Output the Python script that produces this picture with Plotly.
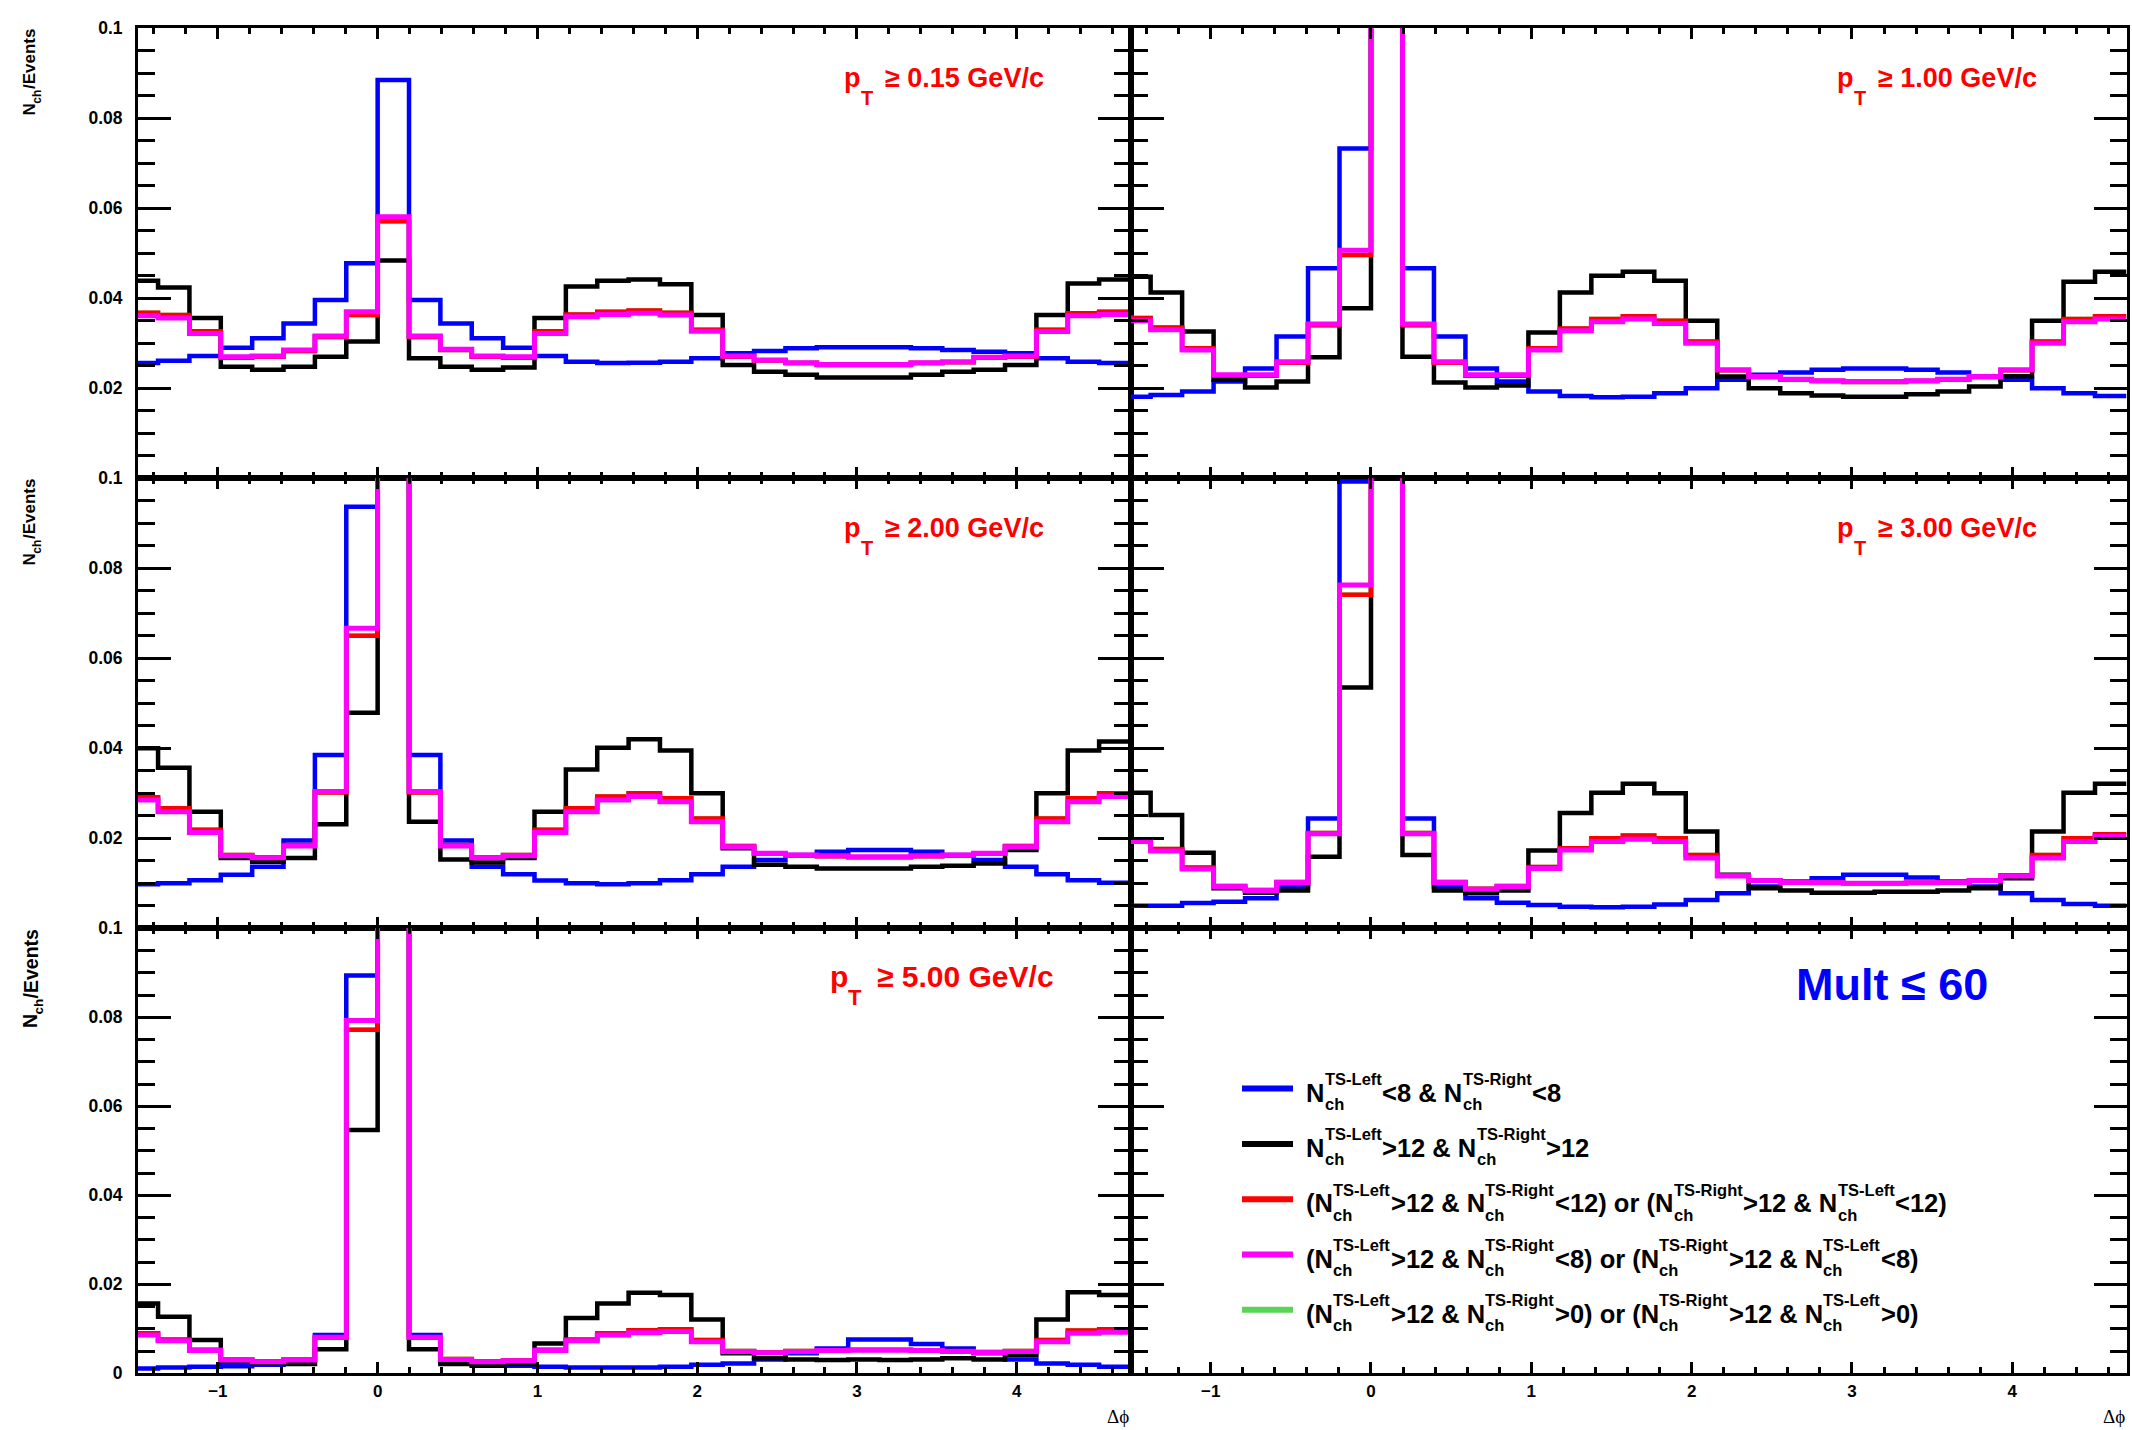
import re
import numpy as np
import plotly.graph_objects as go

W, H = 2132, 1430

# ---------------- data ----------------
NBINS = 32
X_MIN, X_MAX = -1.5, 1.5 * np.pi
BIN_EDGES = np.linspace(-np.pi / 2, 3 * np.pi / 2, NBINS + 1)

PT_CUTS = ["0.15", "1.00", "2.00", "3.00", "5.00"]
X_TICKS = [-1, 0, 1, 2, 3, 4]
X_TICK_TEXT = ["\u22121", "0", "1", "2", "3", "4"]
Y_TICKS = [0, 0.02, 0.04, 0.06, 0.08, 0.1]
Y_TICK_TEXT = ["0", "0.02", "0.04", "0.06", "0.08", "0.1"]
Y_TITLE = ("N", "ch", "/Events")
X_TITLE = "\u0394\u03d5"
MULT_LABEL = "Mult \u2264 60"

LEGEND_LABELS = [
    "N_{ch}^{TS-Left}<8 & N_{ch}^{TS-Right}<8",
    "N_{ch}^{TS-Left}>12 & N_{ch}^{TS-Right}>12",
    "(N_{ch}^{TS-Left}>12 & N_{ch}^{TS-Right}<12) or (N_{ch}^{TS-Right}>12 & N_{ch}^{TS-Left}<12)",
    "(N_{ch}^{TS-Left}>12 & N_{ch}^{TS-Right}<8) or (N_{ch}^{TS-Right}>12 & N_{ch}^{TS-Left}<8)",
    "(N_{ch}^{TS-Left}>12 & N_{ch}^{TS-Right}>0) or (N_{ch}^{TS-Right}>12 & N_{ch}^{TS-Left}>0)",
]

# pT >= 0.15
BLUE_015 = [0.0256, 0.0261, 0.0272, 0.0290, 0.0311, 0.0344, 0.0396, 0.0478, 0.0885, 0.0396, 0.0344, 0.0311, 0.0290, 0.0272, 0.0259, 0.0256,
            0.0257, 0.0259, 0.0267, 0.0278, 0.0283, 0.0289, 0.0291, 0.0291, 0.0291, 0.0289, 0.0285, 0.0281, 0.0278, 0.0267, 0.0259, 0.0256]
BLACK_015 = [0.0439, 0.0424, 0.0356, 0.0248, 0.0241, 0.0248, 0.0270, 0.0304, 0.0484, 0.0267, 0.0248, 0.0241, 0.0246, 0.0356, 0.0426, 0.0439,
             0.0442, 0.0431, 0.0363, 0.0252, 0.0237, 0.0230, 0.0224, 0.0224, 0.0224, 0.0230, 0.0237, 0.0241, 0.0252, 0.0363, 0.0433, 0.0442]
RED_015 = [0.0368, 0.0363, 0.0327, 0.0268, 0.0270, 0.0283, 0.0314, 0.0363, 0.0571, 0.0314, 0.0285, 0.0270, 0.0268, 0.0327, 0.0364, 0.0370,
           0.0373, 0.0368, 0.0330, 0.0270, 0.0262, 0.0256, 0.0252, 0.0252, 0.0252, 0.0256, 0.0258, 0.0268, 0.0270, 0.0330, 0.0367, 0.0370]
MAGENTA_015 = [0.0361, 0.0356, 0.0322, 0.0270, 0.0272, 0.0285, 0.0316, 0.0370, 0.0581, 0.0316, 0.0287, 0.0272, 0.0270, 0.0322, 0.0359, 0.0364,
               0.0367, 0.0363, 0.0327, 0.0272, 0.0263, 0.0257, 0.0253, 0.0253, 0.0253, 0.0257, 0.0259, 0.0269, 0.0272, 0.0326, 0.0361, 0.0364]
GREEN_015 = [0.0368, 0.0363, 0.0327, 0.0268, 0.0270, 0.0283, 0.0314, 0.0363, 0.0571, 0.0314, 0.0285, 0.0270, 0.0268, 0.0327, 0.0364, 0.0370,
             0.0373, 0.0368, 0.0330, 0.0270, 0.0262, 0.0256, 0.0252, 0.0252, 0.0252, 0.0256, 0.0258, 0.0268, 0.0270, 0.0330, 0.0367, 0.0370]

# pT >= 1.00
BLUE_100 = [0.0181, 0.0185, 0.0193, 0.0215, 0.0244, 0.0315, 0.0467, 0.0733, 0.1500, 0.0467, 0.0315, 0.0244, 0.0215, 0.0193, 0.0183, 0.0180,
            0.0181, 0.0189, 0.0200, 0.0219, 0.0230, 0.0235, 0.0241, 0.0244, 0.0244, 0.0241, 0.0235, 0.0227, 0.0219, 0.0200, 0.0189, 0.0183]
BLACK_100 = [0.0448, 0.0413, 0.0326, 0.0219, 0.0202, 0.0215, 0.0269, 0.0378, 0.1500, 0.0270, 0.0213, 0.0202, 0.0206, 0.0324, 0.0413, 0.0450,
             0.0459, 0.0439, 0.0350, 0.0226, 0.0200, 0.0189, 0.0184, 0.0181, 0.0181, 0.0187, 0.0193, 0.0204, 0.0227, 0.0350, 0.0437, 0.0459]
RED_100 = [0.0356, 0.0335, 0.0289, 0.0228, 0.0228, 0.0257, 0.0340, 0.0496, 0.1500, 0.0340, 0.0257, 0.0228, 0.0228, 0.0289, 0.0333, 0.0354,
           0.0360, 0.0350, 0.0304, 0.0240, 0.0225, 0.0219, 0.0216, 0.0214, 0.0214, 0.0216, 0.0219, 0.0225, 0.0240, 0.0304, 0.0354, 0.0360]
MAGENTA_100 = [0.0350, 0.0330, 0.0285, 0.0230, 0.0230, 0.0259, 0.0343, 0.0507, 0.1500, 0.0343, 0.0259, 0.0230, 0.0230, 0.0285, 0.0328, 0.0348,
               0.0354, 0.0344, 0.0300, 0.0241, 0.0226, 0.0220, 0.0217, 0.0215, 0.0215, 0.0217, 0.0220, 0.0226, 0.0241, 0.0300, 0.0348, 0.0354]
GREEN_100 = [0.0356, 0.0335, 0.0289, 0.0228, 0.0228, 0.0257, 0.0340, 0.0496, 0.1500, 0.0340, 0.0257, 0.0228, 0.0228, 0.0289, 0.0333, 0.0354,
             0.0360, 0.0350, 0.0304, 0.0240, 0.0225, 0.0219, 0.0216, 0.0214, 0.0214, 0.0216, 0.0219, 0.0225, 0.0240, 0.0304, 0.0354, 0.0360]

# pT >= 2.00
BLUE_200 = [0.0098, 0.0100, 0.0107, 0.0119, 0.0137, 0.0195, 0.0385, 0.0937, 0.1500, 0.0385, 0.0195, 0.0137, 0.0120, 0.0106, 0.0100, 0.0098,
            0.0100, 0.0107, 0.0120, 0.0137, 0.0152, 0.0163, 0.0170, 0.0174, 0.0174, 0.0170, 0.0163, 0.0152, 0.0137, 0.0120, 0.0107, 0.0101]
BLACK_200 = [0.0400, 0.0357, 0.0259, 0.0156, 0.0148, 0.0156, 0.0231, 0.0479, 0.1500, 0.0237, 0.0153, 0.0146, 0.0156, 0.0259, 0.0353, 0.0401,
             0.0420, 0.0395, 0.0300, 0.0178, 0.0141, 0.0137, 0.0133, 0.0133, 0.0133, 0.0137, 0.0139, 0.0144, 0.0174, 0.0300, 0.0395, 0.0415]
RED_200 = [0.0291, 0.0267, 0.0219, 0.0163, 0.0158, 0.0185, 0.0302, 0.0650, 0.1500, 0.0302, 0.0185, 0.0158, 0.0163, 0.0219, 0.0267, 0.0293,
           0.0300, 0.0289, 0.0244, 0.0183, 0.0166, 0.0162, 0.0160, 0.0158, 0.0158, 0.0160, 0.0162, 0.0166, 0.0183, 0.0244, 0.0289, 0.0300]
MAGENTA_200 = [0.0285, 0.0259, 0.0213, 0.0161, 0.0157, 0.0183, 0.0304, 0.0667, 0.1500, 0.0304, 0.0183, 0.0157, 0.0161, 0.0213, 0.0259, 0.0285,
               0.0293, 0.0281, 0.0237, 0.0181, 0.0167, 0.0163, 0.0161, 0.0159, 0.0159, 0.0161, 0.0163, 0.0167, 0.0181, 0.0237, 0.0281, 0.0293]
GREEN_200 = [0.0291, 0.0267, 0.0219, 0.0163, 0.0158, 0.0185, 0.0302, 0.0650, 0.1500, 0.0302, 0.0185, 0.0158, 0.0163, 0.0219, 0.0267, 0.0293,
             0.0300, 0.0289, 0.0244, 0.0183, 0.0166, 0.0162, 0.0160, 0.0158, 0.0158, 0.0160, 0.0162, 0.0166, 0.0183, 0.0244, 0.0289, 0.0300]

# pT >= 3.00
BLUE_300 = [0.0050, 0.0050, 0.0056, 0.0059, 0.0067, 0.0093, 0.0244, 0.0993, 0.1500, 0.0244, 0.0093, 0.0067, 0.0057, 0.0052, 0.0048, 0.0047,
            0.0048, 0.0053, 0.0063, 0.0078, 0.0093, 0.0104, 0.0111, 0.0119, 0.0119, 0.0113, 0.0104, 0.0093, 0.0078, 0.0063, 0.0054, 0.0050]
BLACK_300 = [0.0301, 0.0252, 0.0168, 0.0089, 0.0079, 0.0084, 0.0159, 0.0535, 0.1500, 0.0163, 0.0084, 0.0078, 0.0084, 0.0173, 0.0256, 0.0301,
             0.0321, 0.0300, 0.0215, 0.0119, 0.0089, 0.0084, 0.0079, 0.0079, 0.0081, 0.0081, 0.0084, 0.0089, 0.0111, 0.0215, 0.0301, 0.0321]
RED_300 = [0.0198, 0.0176, 0.0135, 0.0094, 0.0085, 0.0103, 0.0212, 0.0741, 0.1500, 0.0212, 0.0103, 0.0088, 0.0094, 0.0136, 0.0178, 0.0200,
           0.0206, 0.0200, 0.0163, 0.0118, 0.0107, 0.0102, 0.0101, 0.0100, 0.0100, 0.0101, 0.0102, 0.0107, 0.0118, 0.0163, 0.0200, 0.0209]
MAGENTA_300 = [0.0193, 0.0172, 0.0132, 0.0093, 0.0084, 0.0102, 0.0210, 0.0763, 0.1500, 0.0210, 0.0102, 0.0087, 0.0093, 0.0133, 0.0174, 0.0193,
               0.0198, 0.0193, 0.0156, 0.0116, 0.0106, 0.0102, 0.0101, 0.0100, 0.0100, 0.0101, 0.0102, 0.0106, 0.0116, 0.0156, 0.0193, 0.0204]
GREEN_300 = [0.0198, 0.0176, 0.0135, 0.0094, 0.0085, 0.0103, 0.0212, 0.0741, 0.1500, 0.0212, 0.0103, 0.0088, 0.0094, 0.0136, 0.0178, 0.0200,
             0.0206, 0.0200, 0.0163, 0.0118, 0.0107, 0.0102, 0.0101, 0.0100, 0.0100, 0.0101, 0.0102, 0.0107, 0.0118, 0.0163, 0.0200, 0.0209]

# pT >= 5.00
BLUE_500 = [0.0011, 0.0013, 0.0015, 0.0016, 0.0019, 0.0022, 0.0086, 0.0894, 0.1500, 0.0086, 0.0024, 0.0019, 0.0017, 0.0015, 0.0013, 0.0013,
            0.0013, 0.0015, 0.0019, 0.0022, 0.0031, 0.0045, 0.0056, 0.0076, 0.0076, 0.0066, 0.0056, 0.0045, 0.0031, 0.0022, 0.0019, 0.0015]
BLACK_500 = [0.0157, 0.0127, 0.0075, 0.0026, 0.0022, 0.0021, 0.0054, 0.0547, 0.1500, 0.0054, 0.0021, 0.0017, 0.0021, 0.0067, 0.0124, 0.0157,
             0.0181, 0.0176, 0.0121, 0.0045, 0.0034, 0.0031, 0.0030, 0.0031, 0.0030, 0.0031, 0.0034, 0.0031, 0.0041, 0.0121, 0.0182, 0.0176]
RED_500 = [0.0090, 0.0076, 0.0053, 0.0031, 0.0027, 0.0031, 0.0080, 0.0772, 0.1500, 0.0080, 0.0032, 0.0027, 0.0029, 0.0053, 0.0076, 0.0090,
           0.0097, 0.0099, 0.0075, 0.0050, 0.0047, 0.0050, 0.0052, 0.0053, 0.0053, 0.0052, 0.0050, 0.0048, 0.0050, 0.0075, 0.0096, 0.0099]
MAGENTA_500 = [0.0086, 0.0073, 0.0051, 0.0030, 0.0026, 0.0030, 0.0081, 0.0793, 0.1500, 0.0081, 0.0031, 0.0026, 0.0028, 0.0051, 0.0073, 0.0086,
               0.0091, 0.0094, 0.0071, 0.0049, 0.0046, 0.0049, 0.0051, 0.0052, 0.0052, 0.0051, 0.0049, 0.0047, 0.0049, 0.0071, 0.0090, 0.0092]
GREEN_500 = [0.0090, 0.0076, 0.0053, 0.0031, 0.0027, 0.0031, 0.0080, 0.0772, 0.1500, 0.0080, 0.0032, 0.0027, 0.0029, 0.0053, 0.0076, 0.0090,
             0.0097, 0.0099, 0.0075, 0.0050, 0.0047, 0.0050, 0.0052, 0.0053, 0.0053, 0.0052, 0.0050, 0.0048, 0.0050, 0.0075, 0.0096, 0.0099]

PANEL_DATA = [
    {"blue": BLUE_015, "black": BLACK_015, "red": RED_015, "magenta": MAGENTA_015, "green": GREEN_015},
    {"blue": BLUE_100, "black": BLACK_100, "red": RED_100, "magenta": MAGENTA_100, "green": GREEN_100},
    {"blue": BLUE_200, "black": BLACK_200, "red": RED_200, "magenta": MAGENTA_200, "green": GREEN_200},
    {"blue": BLUE_300, "black": BLACK_300, "red": RED_300, "magenta": MAGENTA_300, "green": GREEN_300},
    {"blue": BLUE_500, "black": BLACK_500, "red": RED_500, "magenta": MAGENTA_500, "green": GREEN_500},
]

# ---------------- styles ----------------
COLORS = {"blue": "#0000ff", "black": "#000000", "red": "#ff0000", "magenta": "#ff00ff", "green": "#59d454"}
WIDTHS = {"blue": 4.5, "black": 4.5, "red": 4.5, "magenta": 5, "green": 4.5}
DRAW_ORDER = ["green", "blue", "black", "red", "magenta"]
LEGEND_ORDER = ["blue", "black", "red", "magenta", "green"]

FONT = "Liberation Sans, Arial, Helvetica, sans-serif"

COL_X = [(138.0, 1130.5), (1130.5, 2126.5)]
ROW_Y = [(28.3, 478.3), (478.3, 928.3), (928.3, 1373.3)]

# Arial/Liberation Sans Bold advance widths (per 1000 em)
AW = {" ": 278, "(": 333, ")": 333, "&": 722, "-": 333, ".": 278, "/": 278, "<": 584, ">": 584,
      "\u2265": 549, "\u2264": 549,
      "0": 556, "1": 556, "2": 556, "3": 556, "4": 556, "5": 556, "6": 556, "7": 556, "8": 556, "9": 556,
      "E": 667, "G": 778, "L": 611, "M": 833, "N": 722, "R": 722, "S": 667, "T": 611, "V": 667,
      "c": 556, "e": 556, "f": 333, "g": 611, "h": 611, "i": 278, "l": 278, "n": 611, "o": 611, "r": 389,
      "s": 556, "t": 333, "u": 611, "v": 556, "p": 611}


def text_w(s, size):
    return sum(AW.get(ch, 556) for ch in s) * size / 1000.0


def esc(s):
    return s.replace("&", "&amp;").replace("<", "&lt;").replace(">", "&gt;")


def fx(x):
    return x / W


def fy(y):
    return 1 - y / H


def ann(x, y, text, size, color="black", xanchor="left", yanchor="middle", family=FONT, bold=True, angle=0):
    f = dict(family=family, size=size, color=color)
    if bold:
        f["weight"] = "bold"
    return dict(x=fx(x), y=fy(y), xref="paper", yref="paper", xanchor=xanchor, yanchor=yanchor,
                text=text, showarrow=False, font=f, borderpad=0, textangle=angle)


def mid_from_baseline(baseline, size):
    # centre of the text box for Liberation Sans (ascent .905, descent .212)
    return baseline - 0.3465 * size


fig = go.Figure()
layout = dict(
    width=W, height=H, margin=dict(l=0, r=0, t=0, b=0, pad=0, autoexpand=False),
    paper_bgcolor="white", plot_bgcolor="white", showlegend=False,
)

shapes = []
annotations = []

for k in range(6):
    r, c = divmod(k, 2)
    x0, x1 = COL_X[c]
    y0, y1 = ROW_Y[r]
    ax = "" if k == 0 else str(k + 1)
    if c == 0:
        yv = Y_TICKS if r == 2 else Y_TICKS[1:]
        yt = Y_TICK_TEXT if r == 2 else Y_TICK_TEXT[1:]
    else:
        yv, yt = Y_TICKS, Y_TICK_TEXT
    layout["xaxis" + ax] = dict(
        domain=[fx(x0), fx(x1)], range=[X_MIN, X_MAX], anchor="y" + ax,
        showline=True, linewidth=3, linecolor="black", mirror="ticks",
        ticks="inside", ticklen=11, tickwidth=3, tickcolor="black",
        tickmode="array", tickvals=X_TICKS, ticktext=X_TICK_TEXT,
        showticklabels=(r == 2), automargin=False,
        tickfont=dict(family=FONT, size=17, color="black", weight="bold"),
        minor=dict(ticks="inside", ticklen=6, tickwidth=3, tickcolor="black",
                   tickmode="linear", tick0=0, dtick=0.2, showgrid=False),
        showgrid=False, zeroline=False, fixedrange=True,
    )
    layout["yaxis" + ax] = dict(
        domain=[fy(y1), fy(y0)], range=[0, 0.1], anchor="x" + ax,
        showline=True, linewidth=3, linecolor="black", mirror="ticks",
        ticks="inside", ticklen=33, tickwidth=3, tickcolor="black",
        tickmode="array", tickvals=yv, ticktext=yt,
        showticklabels=(c == 0), automargin=False, ticklabelstandoff=9,
        tickfont=dict(family=FONT, size=17.5, color="black", weight="bold"),
        minor=dict(ticks="inside", ticklen=17, tickwidth=3, tickcolor="black",
                   tickmode="linear", tick0=0, dtick=0.005, showgrid=False),
        showgrid=False, zeroline=False, fixedrange=True,
    )

    if k < 5:
        d = PANEL_DATA[k]
        for s in DRAW_ORDER:
            vals = list(d[s])
            fig.add_trace(go.Scatter(
                x=BIN_EDGES, y=vals + [vals[-1]], mode="lines",
                line=dict(shape="hv", color=COLORS[s], width=WIDTHS[s]),
                xaxis="x" + ax, yaxis="y" + ax, showlegend=False, hoverinfo="skip",
            ))
        # pT label:  p  (T lowered)  >= x.xx GeV/c
        big = (r == 2)
        size = 30 if big else 27
        tsize = 22 if big else 20
        px0 = x0 + (691 if big else 705)
        base = y0 + (58.4 if big else 59.3)
        tbase = y0 + 76.5
        annotations.append(ann(px0, mid_from_baseline(base, size), "p", size, "#ff0000"))
        annotations.append(ann(px0 + (18 if big else 17), mid_from_baseline(tbase, tsize), "T", tsize, "#ff0000"))
        annotations.append(ann(px0 + (47 if big else 41), mid_from_baseline(base, size),
                               "\u2265 %s GeV/c" % PT_CUTS[k], size, "#ff0000"))
    else:
        # empty frame that carries the legend
        fig.add_trace(go.Scatter(x=[None], y=[None], mode="lines", xaxis="x" + ax, yaxis="y" + ax,
                                 showlegend=False, hoverinfo="skip"))

    # y-axis title (left column), rotated, top-aligned: "/Events" on top, "ch" subscript, "N" at bottom
    if c == 0:
        ms, ss = (17, 12) if r < 2 else (19.5, 13.5)
        top = y0 + 1.0
        main_x = 29.5 if r < 2 else 30.5
        sub_x = main_x + (7.5 if r < 2 else 8.5)
        n, sub, rest = Y_TITLE
        w_rest, w_sub, w_n = text_w(rest, ms), text_w(sub, ss), text_w(n, ms)
        annotations.append(ann(main_x, top + w_rest / 2, rest, ms, xanchor="center", angle=-90))
        annotations.append(ann(sub_x, top + w_rest + w_sub / 2, sub, ss, xanchor="center", angle=-90))
        annotations.append(ann(main_x, top + w_rest + w_sub + w_n / 2, n, ms, xanchor="center", angle=-90))

    # x-axis titles
    if r == 2:
        annotations.append(ann(x1 - 1, 1416, X_TITLE, 19, xanchor="right",
                               family="Liberation Serif, DejaVu Serif, serif", bold=False))

# Mult label
annotations.append(ann(1892, mid_from_baseline(1000, 45), MULT_LABEL, 45, "#0000ff", xanchor="center"))

# legend: line samples + TLatex-like labels with stacked sub/superscripts
LEG_Y = [1088.5, 1144, 1199.3, 1254.5, 1309.7]
MAIN, SCRIPT = 25.5, 16.5
for i, s in enumerate(LEGEND_ORDER):
    yy = LEG_Y[i]
    shapes.append(dict(type="line", xref="paper", yref="paper", layer="above",
                       x0=fx(1242), x1=fx(1293), y0=fy(yy), y1=fy(yy),
                       line=dict(color=COLORS[s], width=6)))
    parts = re.split(r"_\{([^}]*)\}\^\{([^}]*)\}", LEGEND_LABELS[i])
    xc = 1305.0
    ym = mid_from_baseline(yy + 13.0, MAIN)
    ysup = mid_from_baseline(yy - 4.0, SCRIPT)
    ysub = mid_from_baseline(yy + 21.0, SCRIPT)
    j = 0
    while j < len(parts):
        seg = parts[j]
        if seg:
            annotations.append(ann(xc, ym, esc(seg), MAIN))
            xc += text_w(seg, MAIN)
        if j + 2 < len(parts):
            sub, sup = parts[j + 1], parts[j + 2]
            annotations.append(ann(xc + 0.5, ysup, esc(sup), SCRIPT))
            annotations.append(ann(xc + 0.5, ysub, esc(sub), SCRIPT))
            xc += max(text_w(sup, SCRIPT), text_w(sub, SCRIPT)) + 1.0
        j += 3

layout["shapes"] = shapes
layout["annotations"] = annotations
fig.update_layout(**layout)
fig.write_html(
    "out.html",
    config={"displayModeBar": False, "staticPlot": True},
    post_script="document.body.style.margin='0px';document.body.style.padding='0px';"
                "document.documentElement.style.overflow='hidden';document.body.style.overflow='hidden';",
)
